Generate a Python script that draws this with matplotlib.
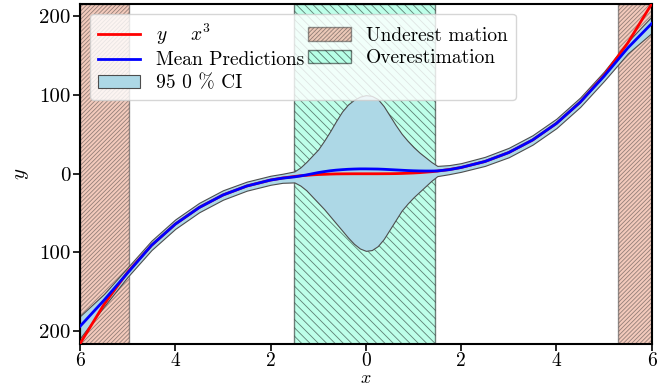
import matplotlib
matplotlib.use('Agg')
import matplotlib.pyplot as plt
import matplotlib.patches as mpatches
from matplotlib.lines import Line2D

# sample positions
x = [-6, -5.5, -5, -4.5, -4, -3.5, -3, -2.5, -2, -1.75,
     -1.5, -1.375, -1.25, -1.125, -1, -0.875, -0.75, -0.625, -0.5, -0.375,
     -0.25, -0.125, 0, 0.125, 0.25, 0.375, 0.5, 0.625, 0.75, 0.875,
     1, 1.125, 1.25, 1.375, 1.5,
     1.75, 2, 2.5, 3, 3.5, 4, 4.5, 5, 5.5, 6]
# true function
y_true = [-216, -166.4, -125, -91.1, -64, -42.9, -27, -15.6, -8, -5.4,
          -3.4, -2.6, -2, -1.4, -1, -0.7, -0.4, -0.2, -0.1, -0.05,
          0, 0, 0, 0, 0, 0.05, 0.1, 0.2, 0.4, 0.7,
          1, 1.4, 2, 2.6, 3.4,
          5.4, 8, 15.6, 27, 42.9, 64, 91.1, 125, 166.4, 216]
# model mean
y_mean = [-194, -161, -126, -91, -64, -43, -27, -15.6, -8, -5.6,
          -4, -2.8, -1.5, 0, 1.5, 2.7, 3.8, 4.6, 5.2, 5.7,
          6, 6.2, 6.2, 6.1, 6, 5.7, 5.3, 4.9, 4.5, 4.1,
          3.8, 3.6, 3.5, 3.5, 3.6,
          5.2, 8, 15.6, 27, 42.9, 64, 91, 124, 160, 191]
# 95% CI bounds
ci_upper = [-181, -153, -119, -85, -58, -37, -21, -10, -2.5, 0,
            3, 8, 15, 23, 31, 42, 54, 67, 79, 88,
            94, 98, 100, 99, 95, 86, 74, 62, 51, 42,
            34, 27, 21, 15, 10,
            11, 13.5, 21.5, 33, 49, 70, 97, 130, 168, 200]
ci_lower = [-209, -169, -131, -97, -70, -49, -33, -21.5, -14, -11.5,
            -11, -15, -21, -29, -37, -45, -54, -63, -72, -81,
            -89, -95, -98, -97, -92, -83, -71, -59, -47, -38,
            -30, -23, -16, -9, -3,
            -0.5, 2.5, 10, 21, 37, 58, 85, 118, 153, 179]

# regions
under_regions = [(-6, -4.97), (5.29, 6)]
over_regions = [(-1.51, 1.45)]

xticks = [-6, -4, -2, 0, 2, 4, 6]
xtick_labels = ['6', '4', '2', '0', '2', '4', '6']
yticks = [-200, -100, 0, 100, 200]
ytick_labels = ['200', '100', '0', '100', '200']

plt.rcParams['font.family'] = 'serif'
plt.rcParams['font.serif'] = ['cmr10', 'DejaVu Serif']
plt.rcParams['mathtext.fontset'] = 'cm'
plt.rcParams['axes.unicode_minus'] = False
plt.rcParams['font.size'] = 14
plt.rcParams['hatch.linewidth'] = 0.6

under_hatch = '/' * 8
over_hatch = '\\' * 4

fig = plt.figure(figsize=(6.67, 3.87), dpi=100)
ax = fig.add_axes([0.12, 0.112, 0.857, 0.878])

for a, b in under_regions:
    ax.axvspan(a, b, facecolor='darksalmon', edgecolor='0.2', alpha=0.5,
               hatch=under_hatch, zorder=1)
for a, b in over_regions:
    ax.axvspan(a, b, facecolor='aquamarine', edgecolor='k', alpha=0.5,
               hatch=over_hatch, zorder=1)

ax.fill_between(x, ci_lower, ci_upper, facecolor='lightblue',
                edgecolor='0.3', linewidth=0.8, zorder=2)
ax.plot(x, y_true, 'r-', linewidth=2, zorder=3)
ax.plot(x, y_mean, 'b-', linewidth=2, zorder=4)

ax.set_xlim(-6, 6)
ax.set_ylim(-216, 216)
ax.set_xticks(xticks)
ax.set_xticklabels(xtick_labels)
ax.set_yticks(yticks)
ax.set_yticklabels(ytick_labels)
ax.tick_params(labelsize=15, width=1.2, length=5, pad=2)
ax.tick_params(axis='x', labelsize=14, pad=1)
ax.set_xlabel('$x$', fontsize=13)
ax.xaxis.set_label_coords(0.5, -0.08)
ax.set_ylabel('$y$', fontsize=15, labelpad=6)
[i.set_linewidth(1.5) for i in ax.spines.values()]

handles = [
    Line2D([], [], color='r', linewidth=2),
    Line2D([], [], color='b', linewidth=2),
    mpatches.Patch(facecolor='lightblue', edgecolor='0.3', linewidth=0.8),
    mpatches.Patch(facecolor='darksalmon', edgecolor='0.2', alpha=0.5, hatch=under_hatch),
    mpatches.Patch(facecolor='aquamarine', edgecolor='k', alpha=0.5, hatch=over_hatch),
]
labels = [r'$y\quad\;\, x^3$', 'Mean Predictions', '95 0 % CI',
          'Underest mation', 'Overestimation']
ax.legend(handles, labels, loc='upper left', ncol=2, handlelength=2.2,
          columnspacing=0.2, labelspacing=0.25, borderpad=0.4,
          handletextpad=0.8, fontsize=14)

fig.savefig('out.png', dpi=100)
